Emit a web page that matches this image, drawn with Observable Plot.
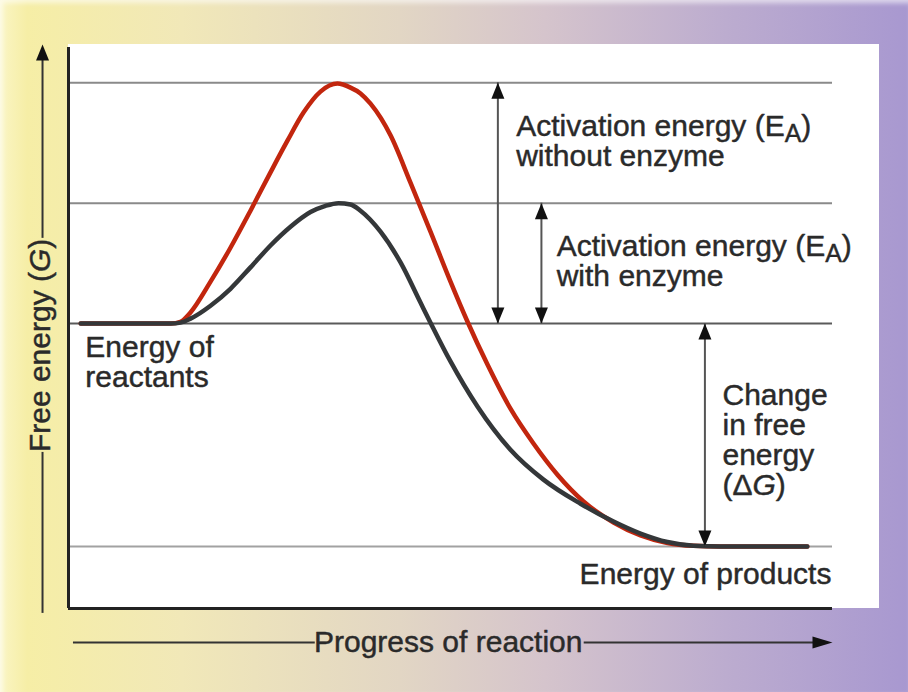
<!DOCTYPE html>
<html>
<head>
<meta charset="utf-8">
<script src="https://cdn.jsdelivr.net/npm/d3@7"></script>
<script src="https://cdn.jsdelivr.net/npm/@observablehq/plot@0.6"></script>
<style>
html, body { margin: 0; padding: 0; }
body { width: 908px; height: 692px; overflow: hidden; }
#wrap {
  position: relative; width: 908px; height: 692px;
  background: linear-gradient(to right, #faf5c4 0%, #f6eea6 3%, #f1e8b8 20%, #e2d6c4 44%, #d5c4cc 60%, #bcaccf 80%, #a898d0 100%);
  box-shadow: inset 3px 3px 5px rgba(255,255,255,0.6);
}
#panel { position: absolute; left: 68px; top: 44px; width: 811px; height: 564px; background: #fff; }
#chart { position: absolute; left: 0; top: 0; }
</style>
</head>
<body>
<div id="wrap"><div id="panel"></div><div id="chart"></div></div>
<script>
// ---- data (progress of reaction 0–100, free energy G in arbitrary units) ----
// without enzyme (red)
const uncatX = [1.6, 13.4, 14.66, 15.97, 18.59, 21.2, 23.82, 26.44, 28.66, 30.76, 32.98, 35.2, 36.91, 38.22, 39.53, 42.15, 44.76, 47.38, 50.0, 52.23, 54.84, 57.85, 60.86, 64.0, 67.41, 71.34, 74.87, 78.4, 81.81, 85.3, 96.7];
const uncatG = [50, 50, 50.4, 52.5, 59.4, 67.0, 75.3, 83.9, 91.0, 97.3, 102.0, 103.8, 102.9, 101.6, 99.3, 92.2, 81.6, 70.6, 59.4, 50.4, 40.8, 30.9, 23.1, 16.1, 10.1, 5.4, 2.5, 0.8, 0.16, 0, 0];
// with enzyme (dark grey)
const catX = [1.6, 13.4, 14.66, 15.97, 18.59, 21.2, 23.82, 26.44, 29.06, 31.68, 33.64, 35.34, 36.91, 38.22, 40.84, 43.46, 46.07, 47.38, 50.0, 53.53, 57.85, 62.17, 67.02, 71.34, 74.87, 78.4, 81.81, 85.3, 96.7];
const catG = [50, 50, 50.2, 51.1, 54.0, 57.8, 62.6, 67.5, 71.7, 75.0, 76.4, 77.0, 76.7, 75.3, 70.6, 63.7, 54.7, 50.2, 41.5, 31.4, 21.7, 15.0, 9.6, 5.6, 2.9, 1.0, 0.16, 0, 0];

const levels = [104, 77, 50, 0];            // peak without enzyme, peak with enzyme, reactants, products
const levelColors = ["#8a8a8a", "#8a8a8a", "#5a5a5a", "#a2a2a2"];

const arrowX = [56.2, 61.9, 83.3];          // annotation arrows
const arrowFrom = [50, 50, 0];
const arrowTo = [104, 77, 50];

const labelText = ["Activation energy (EA)\nwithout enzyme", "Activation energy (EA)\nwith enzyme", "Energy of\nreactants", "Change\nin free\nenergy\n(ΔG)", "Energy of products"];
const labelX = [58.6, 63.9, 2.2, 85.6, 66.9];
const labelG = [96.9, 70.0, 47.2, 36.6, -3.7];

const xTitle = "Progress of reaction";
const yTitle = "Free energy (G)";

const G_MIN = -13.9, G_MAX = 111.9;         // frame extent
const xArrowG = -21.5, xArrowSeg1 = [0.65, 32.3], xArrowSeg2 = [67.5, 98], xArrowTip = 100;
const yArrowX = -3.4, yArrowSeg1 = [-15, 21.1], yArrowSeg2 = [69.1, 110], yArrowTip = 112.6;

// ---- helpers ----
const tri = (dir) => ({
  draw(ctx) {
    const w = 6.5, h = 16;
    if (dir === "up") { ctx.moveTo(0, 0); ctx.lineTo(-w, h); ctx.lineTo(w, h); }
    else if (dir === "down") { ctx.moveTo(0, 0); ctx.lineTo(-w, -h); ctx.lineTo(w, -h); }
    else { ctx.moveTo(0, 0); ctx.lineTo(-20, -6); ctx.lineTo(-20, 6); }
    ctx.closePath();
  }
});

const uncat = uncatX.map((x, i) => ({x, g: uncatG[i]}));
const cat = catX.map((x, i) => ({x, g: catG[i]}));
const levelData = levels.map((g, i) => ({g, c: levelColors[i]}));
const arrows = arrowX.map((x, i) => ({x, g1: arrowFrom[i], g2: arrowTo[i]}));
const labels = labelText.map((t, i) => ({text: t, x: labelX[i], g: labelG[i]}));
const FONT = "'Liberation Sans', Arial, Helvetica, sans-serif";
const TXT = "#2a2a2a";
const TS = {fill: TXT, stroke: TXT, strokeWidth: 0.45, fontSize: 30};

const plot = Plot.plot({
  width: 908, height: 692,
  marginLeft: 68, marginRight: 76, marginTop: 47, marginBottom: 84,
  x: {domain: [0, 100], axis: null},
  y: {domain: [G_MIN, G_MAX], axis: null},
  style: {background: "transparent", overflow: "visible", fontFamily: FONT},
  marks: [
    Plot.ruleY(levelData, {y: "g", x1: 0, x2: 100, stroke: "c", strokeWidth: 2}),
    // frame
    Plot.ruleX([0], {y1: G_MIN, y2: G_MAX, stroke: "#222", strokeWidth: 3}),
    Plot.ruleY([G_MIN], {x1: 0, x2: 100, stroke: "#222", strokeWidth: 3}),
    // curves
    Plot.line(uncat, {x: "x", y: "g", stroke: "#c2260e", strokeWidth: 4.5, curve: "monotone-x"}),
    Plot.line(cat, {x: "x", y: "g", stroke: "#343739", strokeWidth: 4.5, curve: "monotone-x"}),
    // annotation arrows
    Plot.ruleX(arrows, {x: "x", y1: "g1", y2: "g2", stroke: "#555", strokeWidth: 2}),
    Plot.dot(arrows, {x: "x", y: "g2", symbol: tri("up"), fill: "#111", stroke: "none"}),
    Plot.dot(arrows, {x: "x", y: "g1", symbol: tri("down"), fill: "#111", stroke: "none"}),
    // labels
    Plot.text(labels, {x: "x", y: "g", text: "text", textAnchor: "start", lineAnchor: "top", lineHeight: 1.0, ...TS}),
    // x axis arrow + title
    Plot.ruleY([xArrowSeg1, xArrowSeg2], {y: xArrowG, x1: d => d[0], x2: d => d[1], stroke: "#333", strokeWidth: 2}),
    Plot.dot([xArrowTip], {x: d => d, y: xArrowG, symbol: tri("right"), fill: "#111", stroke: "none"}),
    Plot.text([xTitle], {x: 49.7, y: xArrowG, text: d => d, textAnchor: "middle", lineAnchor: "middle", ...TS}),
    // y axis arrow + title
    Plot.ruleX([yArrowSeg1, yArrowSeg2], {x: yArrowX, y1: d => d[0], y2: d => d[1], stroke: "#333", strokeWidth: 2}),
    Plot.dot([yArrowTip], {x: yArrowX, y: d => d, symbol: tri("up"), fill: "#111", stroke: "none"}),
    Plot.text([yTitle], {x: -3.7, y: 45.1, text: d => d, rotate: -90, textAnchor: "middle", lineAnchor: "middle", ...TS})
  ]
});

// rich text: subscript A, italic G
const NS = "http://www.w3.org/2000/svg";
function ts(txt, attrs = {}) {
  const t = document.createElementNS(NS, "tspan");
  for (const k in attrs) t.setAttribute(k, attrs[k]);
  t.textContent = txt;
  return t;
}
plot.querySelectorAll("text, tspan").forEach(el => {
  if (el.children.length) return;
  const s = el.textContent;
  if (s.endsWith("(EA)")) {
    el.textContent = s.slice(0, -2);
    el.appendChild(ts("A", {dy: "6", "font-size": "25"}));
    el.appendChild(ts(")", {dy: "-6", "font-size": "30"}));
  } else if (s.endsWith("G)")) {
    el.textContent = s.slice(0, -2);
    el.appendChild(ts("G", {"font-style": "italic"}));
    el.appendChild(ts(")"));
  }
});

document.getElementById("chart").appendChild(plot);
</script>
</body>
</html>
